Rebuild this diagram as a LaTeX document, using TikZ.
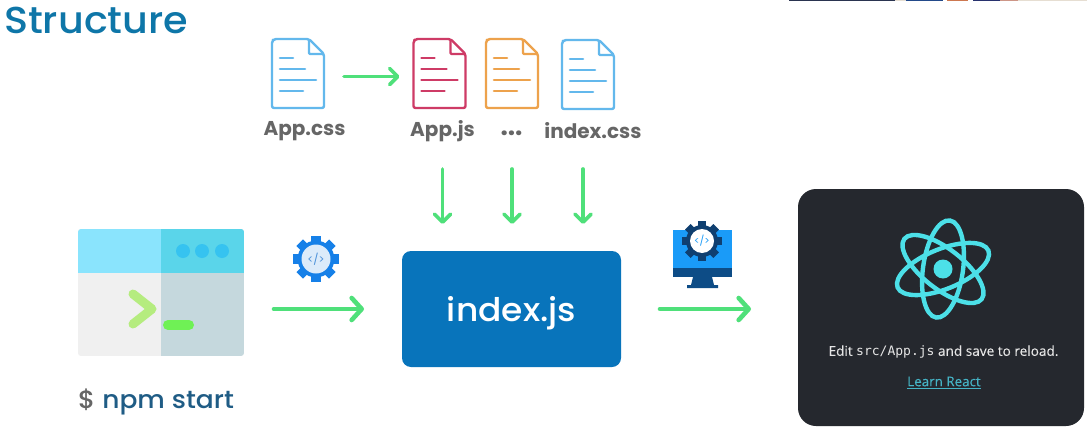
\documentclass[tikz,border=0pt]{standalone}
\usepackage{fontspec}
\setmainfont{Poppins}
\newfontfamily\widefont{Poppins Medium}[FakeStretch=1.06]
\newfontfamily\uifont{Open Sans}[FakeBold=0.15]
\newfontfamily\codefont{DejaVu Sans Mono}
\usetikzlibrary{arrows.meta}
\definecolor{flowgreen}{HTML}{4FE07A}
\definecolor{fileblue}{HTML}{63B8EC}
\definecolor{filered}{HTML}{CE3B66}
\definecolor{fileorange}{HTML}{EDA24C}
\definecolor{titleblue}{HTML}{0E76A8}
\definecolor{npmblue}{HTML}{1F5C85}
\definecolor{boxblue}{HTML}{0874BB}
\definecolor{darkbox}{HTML}{25282E}
\definecolor{reactcyan}{HTML}{4CE0E8}
\definecolor{labelgrey}{HTML}{666666}
\definecolor{stripa}{HTML}{2A3450}
\definecolor{stripb}{HTML}{234A8A}
\definecolor{stripc}{HTML}{CD7850}
\definecolor{stripd}{HTML}{28326E}
\definecolor{stripe}{HTML}{CD9687}
\definecolor{stripf}{HTML}{E6DED2}
\definecolor{termbodyl}{HTML}{F0F0F0}
\definecolor{termbodyr}{HTML}{C5D8DD}
\definecolor{termheadl}{HTML}{8AE4FD}
\definecolor{termheadr}{HTML}{5AD5EA}
\definecolor{termdot}{HTML}{36C3F0}
\definecolor{termchev}{HTML}{B5EC7F}
\definecolor{termcur}{HTML}{6FF155}
\definecolor{gearone}{HTML}{1680E8}
\definecolor{geardisc}{HTML}{DCEBFA}
\definecolor{gearcode}{HTML}{4A90D9}
\definecolor{monscreen}{HTML}{1A9BF8}
\definecolor{monbase}{HTML}{0D4C86}
\definecolor{geartwo}{HTML}{0F3F70}
\definecolor{edittext}{HTML}{E6E6E6}
\definecolor{linkteal}{HTML}{45B4C6}
\tikzset{
  flow/.style={draw=flowgreen,line width=3.6pt,line cap=round,-{Straight Barb[length=8pt,width=16pt,round]}},
  bigflow/.style={draw=flowgreen,line width=4.6pt,line cap=round,-{Straight Barb[length=10pt,width=22pt,round]}},
  filebox/.style={minimum width=52pt,minimum height=69pt,inner sep=0pt,outer sep=0pt},
  filelabel/.style={font=\fontsize{20}{24}\selectfont\bfseries,text=labelgrey,inner sep=0pt},
  rawbox/.style={inner sep=0pt,outer sep=0pt}
}
\newcommand{\fileicon}[2]{%
  \begin{scope}[shift={(#1.north west)},draw=#2,line width=2.4pt,line join=round]
    \draw[rounded corners=2pt] (37,0) -- (2,0) -- (0,2) -- (0,69) -- (52,69) -- (52,15) -- cycle;
    \draw[rounded corners=1pt] (37,0) -- (37,15) -- (52,15);
    \draw[line cap=round,line width=2.6pt] (8,19) -- (21,19) (8,30) -- (33,30) (8,41) -- (44,41) (8,52) -- (31,52);
  \end{scope}}
\newcommand{\gearicon}[6]{% x,y,outer,disc,gear colour,disc colour
  \begin{scope}[shift={(#1,#2)}]
    \foreach \a in {0,45,...,315}{
      \fill[#5,rotate=\a] (-#3*0.2pt,0pt) rectangle (#3*0.2pt,#3*1pt);}
    \fill[#5] (0,0) circle (#3*0.8pt);
    \fill[#6] (0,0) circle (#4);
  \end{scope}}
\begin{document}
\begin{tikzpicture}[x=1pt,y=-1pt]
\useasboundingbox (0,0) rectangle (1087,431);
\fill[white] (0,0) rectangle (1087,431);
% top strip
\fill[stripa] (789,0) rectangle (895,1.2);
\fill[stripf] (895,0) rectangle (906,1.2);
\fill[stripb] (906,0) rectangle (943,1.2);
\fill[stripc] (947,0) rectangle (968,1.2);
\fill[stripd] (973,0) rectangle (1000,1.2);
\fill[stripe] (1000,0) rectangle (1018,1.2);
\fill[stripf] (1018,0) rectangle (1087,1.2);

\node[anchor=base west,inner sep=0pt,text=titleblue,font=\widefont\fontsize{37.5}{42}\selectfont] (title) at (4,34) {Structure};

% files
\node[filebox] (appcss) at (298,73.5) {};
\node[filebox] (appjs) at (439.5,73.5) {};
\node[filebox] (other) at (512,73.5) {};
\node[filebox] (indexcss) at (588,74.5) {};
\fileicon{appcss}{fileblue}
\fileicon{appjs}{filered}
\fileicon{other}{fileorange}
\fileicon{indexcss}{fileblue}
\node[filelabel] (lcss) at (304.5,131) {App.css};
\node[filelabel] (ljs) at (442.5,131) {App.js};
\node[filelabel,font=\fontsize{26}{28}\selectfont\bfseries] (ldots) at (511.5,133) {...};
\node[filelabel] (licss) at (593,131) {index.css};

% terminal
\node[rawbox,minimum width=166pt,minimum height=127pt] (term) at (161,292.5) {};
\begin{scope}
  \clip[rounded corners=3pt] (term.north west) rectangle (term.south east);
  \fill[termbodyl] (78,229) rectangle (161,356);
  \fill[termbodyr] (161,229) rectangle (244,356);
  \fill[termheadl] (78,229) rectangle (161,273);
  \fill[termheadr] (161,229) rectangle (244,273);
\end{scope}
\fill[termdot] (183,251) circle (7pt) (202,251) circle (7pt) (222,251) circle (7pt);
\draw[termchev,line width=9pt,line cap=round,line join=round] (133,294) -- (152,309) -- (133,324);
\draw[termcur,line width=10pt,line cap=round] (168,325) -- (189,325);
\node[anchor=base west,inner sep=0pt,font=\widefont\fontsize{25}{30}\selectfont] (npm) at (78,408) {\textcolor{labelgrey}{\$} \textcolor{npmblue}{npm start}};

% gear 1
\gearicon{316}{259}{23}{14.5pt}{gearone}{geardisc}
\node[rawbox,text=gearcode,font=\fontsize{11}{12}\selectfont] (g1) at (316,259) {</>};

% index box
\node[rawbox,minimum width=219pt,minimum height=116pt,fill=boxblue,rounded corners=9pt] (index) at (511.5,309) {};
\node[rawbox,text=white,font=\widefont\fontsize{32.5}{38}\selectfont] (indextext) at (511.5,313) {index.js};

% monitor
\node[rawbox,minimum width=59pt,minimum height=47pt,fill=monscreen] (screen) at (702.5,253.5) {};
\fill[monbase] (673,268) rectangle (732,277);
\fill[monbase] (693,277) -- (712,277) -- (714,285) -- (718,285) -- (718,288) -- (687,288) -- (687,285) -- (691,285) -- cycle;
\gearicon{702}{241}{20}{12pt}{geartwo}{white}
\node[rawbox,text=monscreen,font=\fontsize{10}{12}\selectfont] (g2) at (702,241) {</>};

% react window
\node[rawbox,minimum width=286pt,minimum height=237pt,fill=darkbox,rounded corners=18pt] (react) at (941,307.5) {};
\begin{scope}[shift={(943,269)}]
  \foreach \a in {22,82,142}{
    \draw[reactcyan,line width=4.4pt,rotate=\a] (0,0) ellipse [x radius=49pt,y radius=20pt];}
  \fill[reactcyan] (0,0) circle (9.5pt);
\end{scope}
\node[rawbox,text=edittext,font=\uifont\fontsize{13.6}{15}\selectfont] (edit) at (943.5,352) {Edit {\codefont\fontsize{13}{15}\selectfont src/App.js} and save to reload.};
\node[rawbox,text=linkteal,font=\uifont\fontsize{13.4}{15}\selectfont] (learn) at (944,382.5) {\underline{Learn React}};

% connectors
\draw[flow,shorten <=20pt,shorten >=14pt] ([yshift=-3pt]appcss.east) -- ([yshift=-3pt]appjs.west);
\draw[flow,shorten <=61pt,shorten >=27pt] ([xshift=3pt]appjs.south) -- ([xshift=3pt]appjs.south |- index.north);
\draw[flow,shorten <=61pt,shorten >=27pt] (other.south) -- (other.south |- index.north);
\draw[flow,shorten <=60pt,shorten >=27pt] ([xshift=-5pt]indexcss.south) -- ([xshift=-5pt]indexcss.south |- index.north);
\draw[bigflow,shorten <=30pt,shorten >=38pt] (term.east |- index.west) -- (index.west);
\draw[bigflow,shorten <=39pt,shorten >=47pt] (index.east) -- (index.east -| react.west);
\end{tikzpicture}
\end{document}
